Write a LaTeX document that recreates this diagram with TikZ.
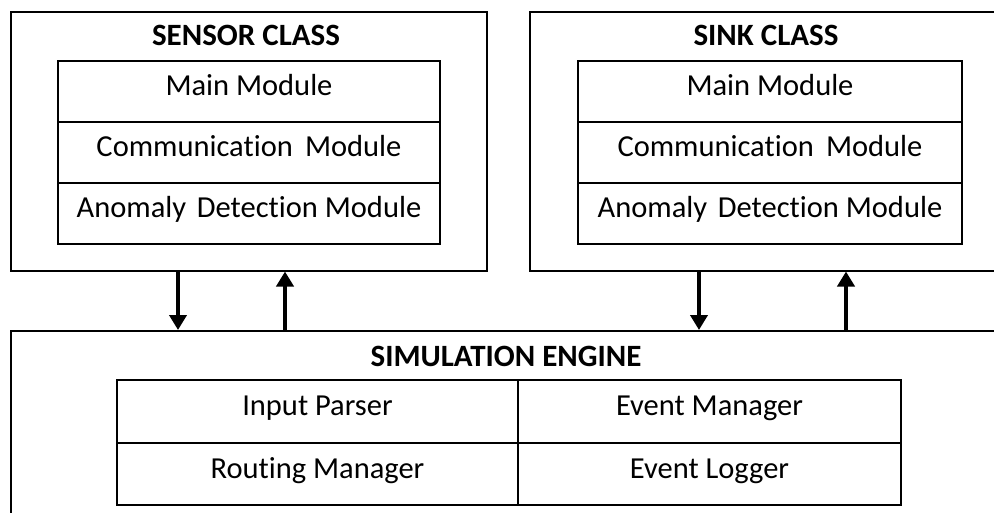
\documentclass[tikz,border=0pt]{standalone}
\usepackage{fontspec}
\setmainfont[Ligatures={NoCommon,NoRare,NoContextual}]{Carlito}
\usetikzlibrary{arrows.meta}
\begin{document}
\begin{tikzpicture}[x=1pt,y=-1pt,
  outerbox/.style={draw=black, line width=1.5pt, inner sep=0pt, anchor=north west},
  cell/.style={draw=black, line width=2pt, inner sep=0pt, anchor=north west,
    text height=20pt, text depth=12pt, font=\fontsize{30.5}{34}\selectfont},
  title/.style={anchor=base, inner sep=0pt, font=\fontsize{31}{34}\selectfont\bfseries},
  arr/.style={line width=4.5pt, -{Triangle[length=15pt,width=17pt]}}]
\useasboundingbox (0,0) rectangle (994,512);
\fill[white] (0,0) rectangle (994,512);
\clip (0,0) rectangle (994,512);

% outer boxes
\node[outerbox, minimum width=476pt, minimum height=259pt] (sensor) at (10,11) {};
\node[outerbox, minimum width=480pt, minimum height=259pt] (sink) at (529,11) {};
\node[outerbox, minimum width=1000pt, minimum height=200pt] (sim) at (10,330) {};

% titles
\node[title] (sensorT) at (246,45) {SENSOR CLASS};
\node[title] (sinkT) at (766,45) {SINK CLASS};
\node[title] (simT) at (506,366) {SIMULATION ENGINE};

% sensor table
\node[cell, minimum width=382pt, minimum height=61pt] (s1) at (57,60) {Main Module};
\node[cell, minimum width=382pt, minimum height=61pt] (s2) at (57,121) {Communicat\kern0pt ion\hskip0.4em Module};
\node[cell, minimum width=382pt, minimum height=61pt] (s3) at (57,182) {Anomaly\hskip0.35em Detect\kern0pt ion Module};

% sink table
\node[cell, minimum width=384pt, minimum height=61pt] (k1) at (577,60) {Main Module};
\node[cell, minimum width=384pt, minimum height=61pt] (k2) at (577,121) {Communicat\kern0pt ion\hskip0.4em Module};
\node[cell, minimum width=384pt, minimum height=61pt] (k3) at (577,182) {Anomaly\hskip0.35em Detect\kern0pt ion Module};

% simulation table
\node[cell, minimum width=401pt, minimum height=63pt] (e1) at (116,379) {Input Parser};
\node[cell, minimum width=383pt, minimum height=63pt] (e2) at (517,379) {Event Manager};
\node[cell, minimum width=401pt, minimum height=62pt] (e3) at (116,442) {Routing Manager};
\node[cell, minimum width=383pt, minimum height=62pt] (e4) at (517,442) {Event Logger};

% arrows
\draw[arr] ([xshift=168pt]sensor.south west) -- ([xshift=168pt]sensor.south west |- sim.north);
\draw[arr] ([xshift=275pt]sensor.south west |- sim.north) -- ([xshift=275pt]sensor.south west);
\draw[arr] ([xshift=170pt]sink.south west) -- ([xshift=170pt]sink.south west |- sim.north);
\draw[arr] ([xshift=317pt]sink.south west |- sim.north) -- ([xshift=317pt]sink.south west);
\end{tikzpicture}
\end{document}
